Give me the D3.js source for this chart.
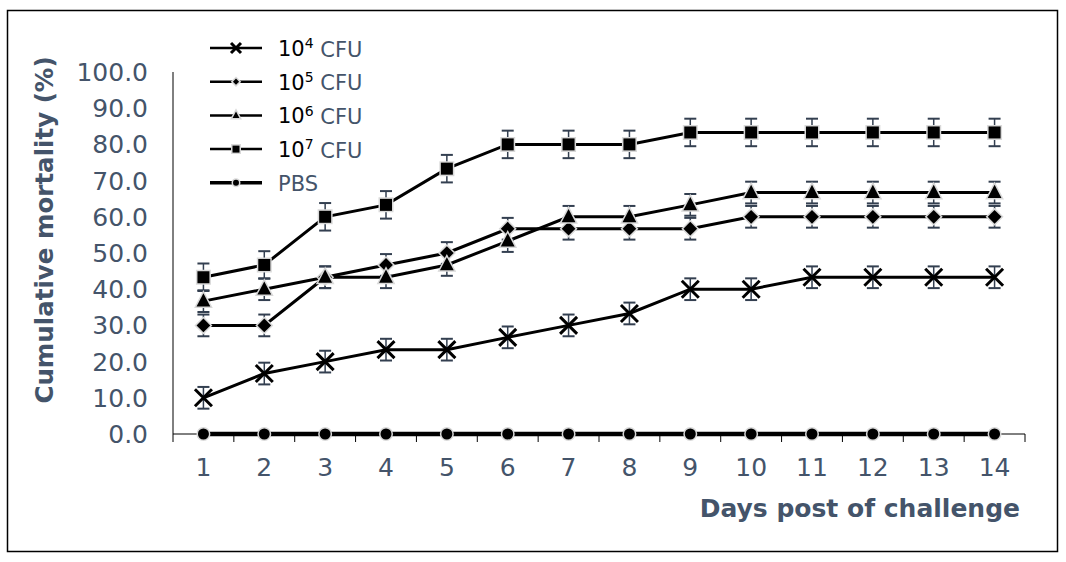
<!DOCTYPE html>
<html>
<head>
<meta charset="utf-8">
<script src="https://cdn.jsdelivr.net/npm/d3@7"></script>
<style>
  body { margin: 0; background: #fff; }
  svg text { font-family: "DejaVu Sans", Verdana, sans-serif; }
</style>
</head>
<body>
<div id="chart"></div>
<script>
// data
const days = [1, 2, 3, 4, 5, 6, 7, 8, 9, 10, 11, 12, 13, 14]
const yTicks = [0, 10, 20, 30, 40, 50, 60, 70, 80, 90, 100]

const cfu4 = [10, 16.7, 20, 23.3, 23.3, 26.7, 30, 33.3, 40, 40, 43.3, 43.3, 43.3, 43.3]
const cfu5 = [30, 30, 43.3, 46.7, 50, 56.7, 56.7, 56.7, 56.7, 60, 60, 60, 60, 60]
const cfu6 = [36.7, 40, 43.3, 43.3, 46.7, 53.3, 60, 60, 63.3, 66.7, 66.7, 66.7, 66.7, 66.7]
const cfu7 = [43.3, 46.7, 60, 63.3, 73.3, 80, 80, 80, 83.3, 83.3, 83.3, 83.3, 83.3, 83.3]
const pbs = [0, 0, 0, 0, 0, 0, 0, 0, 0, 0, 0, 0, 0, 0]

const err4 = [3, 3, 3, 3, 3, 3, 3, 3, 3, 3, 3, 3, 3, 3]
const err5 = [3, 3, 3, 3, 3, 3, 3, 3, 3, 3, 3, 3, 3, 3]
const err6 = [3, 3, 3, 3, 3, 3, 3, 3, 3, 3, 3, 3, 3, 3]
const err7 = [3.8, 3.8, 3.8, 3.8, 3.8, 3.8, 3.8, 3.8, 3.8, 3.8, 3.8, 3.8, 3.8, 3.8]
const errPbs = [0, 0, 0, 0, 0, 0, 0, 0, 0, 0, 0, 0, 0, 0]

const seriesNames = ['4', '5', '6', '7', 'PBS']

const textColor = '#44546a'
const errColor = '#333f50'
const haloColor = '#d9d9d9'

const series = [
  {name: seriesNames[0], values: cfu4, err: err4, marker: 'x', width: 3},
  {name: seriesNames[1], values: cfu5, err: err5, marker: 'diamond', width: 3},
  {name: seriesNames[2], values: cfu6, err: err6, marker: 'triangle', width: 3},
  {name: seriesNames[3], values: cfu7, err: err7, marker: 'square', width: 3},
  {name: seriesNames[4], values: pbs, err: errPbs, marker: 'circle', width: 4.5},
]

const canvasWidth = 1066
const canvasHeight = 562
const margins = {top: 72, right: 41, bottom: 128, left: 173}
const width = canvasWidth - margins.left - margins.right
const height = canvasHeight - margins.top - margins.bottom

const root = d3
  .select('#chart')
  .append('svg')
  .attr('width', canvasWidth)
  .attr('height', canvasHeight)

// outer frame
root
  .append('rect')
  .attr('x', 7.5)
  .attr('y', 10.5)
  .attr('width', 1050)
  .attr('height', 541)
  .attr('fill', 'none')
  .attr('stroke', '#000')
  .attr('stroke-width', 1.5)

const svg = root
  .append('g')
  .attr('transform', `translate(${margins.left}, ${margins.top})`)

const xScale = d3
  .scaleBand()
  .domain(days)
  .range([0, width])

const yScale = d3
  .scaleLinear()
  .domain([0, 100])
  .range([height, 0])

const xc = d => xScale(d) + xScale.bandwidth() / 2

// x axis: ticks on category boundaries
const xAxis = svg
  .append('g')
  .attr('transform', `translate(0, ${height})`)

xAxis
  .append('line')
  .attr('x1', 0)
  .attr('x2', width)
  .attr('stroke', '#000')
  .attr('stroke-width', 1)

xAxis
  .selectAll('line.tick')
  .data(days.concat([null]))
  .enter()
  .append('line')
  .attr('class', 'tick')
  .attr('x1', (d, i) => i * xScale.step())
  .attr('x2', (d, i) => i * xScale.step())
  .attr('y1', 0)
  .attr('y2', 8)
  .attr('stroke', '#000')

xAxis
  .selectAll('text')
  .data(days)
  .enter()
  .append('text')
  .attr('x', d => xc(d))
  .attr('y', 42)
  .attr('text-anchor', 'middle')
  .attr('font-size', 25)
  .attr('fill', textColor)
  .text(d => d)

// y axis
const yAxis = svg.append('g')

yAxis
  .append('line')
  .attr('y1', 0)
  .attr('y2', height)
  .attr('stroke', '#000')

yAxis
  .selectAll('text')
  .data(yTicks)
  .enter()
  .append('text')
  .attr('x', -25)
  .attr('y', d => yScale(d))
  .attr('dy', '0.36em')
  .attr('text-anchor', 'end')
  .attr('font-size', 25)
  .attr('fill', textColor)
  .text(d => d3.format('.1f')(d))

// axis titles
root
  .append('text')
  .attr('transform', 'translate(53, 230) rotate(-90)')
  .attr('text-anchor', 'middle')
  .attr('font-size', 24.5)
  .attr('font-weight', 'bold')
  .attr('fill', textColor)
  .text('Cumulative mortality (%)')

root
  .append('text')
  .attr('x', 1020)
  .attr('y', 517)
  .attr('text-anchor', 'end')
  .attr('font-size', 25)
  .attr('font-weight', 'bold')
  .attr('fill', textColor)
  .text('Days post of challenge')

const drawMarker = (g, type, s) => {
  if (type === 'x') {
    g.append('path')
      .attr('d', `M${-s},${-s}L${s},${s}M${-s},${s}L${s},${-s}`)
      .attr('stroke', '#000')
      .attr('stroke-width', 3)
      .attr('fill', 'none')
    return
  }
  let d
  if (type === 'square') d = d3.symbol(d3.symbolSquare, s * s * 4)()
  if (type === 'diamond') d = `M0,${-s * 1.25}L${s * 1.25},0L0,${s * 1.25}L${-s * 1.25},0Z`
  if (type === 'triangle') d = `M0,${-s * 1.3}L${s * 1.15},${s * 0.9}L${-s * 1.15},${s * 0.9}Z`
  if (type === 'circle') d = d3.symbol(d3.symbolCircle, Math.PI * s * s)()
  g.append('path')
    .attr('d', d)
    .attr('fill', '#000')
    .attr('stroke', haloColor)
    .attr('stroke-width', 3)
    .attr('paint-order', 'stroke')
}

const markerSize = {x: 8.5, square: 6, diamond: 5.5, triangle: 6, circle: 5.5}

const line = d3
  .line()
  .x((v, i) => xc(days[i]))
  .y(v => yScale(v))

series.forEach(s => {
  svg
    .append('path')
    .datum(s.values)
    .attr('d', line)
    .attr('fill', 'none')
    .attr('stroke', '#000')
    .attr('stroke-width', s.width)
})

// error bars
series.forEach(s => {
  const g = svg.append('g')
  s.values.forEach((v, i) => {
    const e = s.err[i]
    if (!e) return
    const x = xc(days[i])
    const y1 = yScale(v + e)
    const y2 = yScale(v - e)
    g.append('line')
      .attr('x1', x).attr('x2', x)
      .attr('y1', y1).attr('y2', y2)
      .attr('stroke', errColor).attr('stroke-width', 1.5)
    ;[y1, y2].forEach(y => {
      g.append('line')
        .attr('x1', x - 6).attr('x2', x + 6)
        .attr('y1', y).attr('y2', y)
        .attr('stroke', errColor).attr('stroke-width', 2)
    })
  })
})

// markers
series.forEach(s => {
  svg
    .selectAll(null)
    .data(s.values)
    .enter()
    .append('g')
    .attr('transform', (v, i) => `translate(${xc(days[i])}, ${yScale(v)})`)
    .each(function () {
      drawMarker(d3.select(this), s.marker, markerSize[s.marker])
    })
})

// legend
const legend = root.append('g').attr('transform', 'translate(210, 48)')
const legendRow = 33.7

series.forEach((s, i) => {
  const g = legend.append('g').attr('transform', `translate(0, ${i * legendRow})`)
  g.append('line')
    .attr('x1', 0).attr('x2', 52)
    .attr('stroke', '#000')
    .attr('stroke-width', s.marker === 'circle' ? 3.5 : 2.5)
  const m = g.append('g').attr('transform', 'translate(26, 0)')
  const small = {x: 5, square: 3.5, diamond: 2.5, triangle: 3, circle: 3}
  drawMarker(m, s.marker, small[s.marker])

  const t = g.append('text')
    .attr('x', 68)
    .attr('y', 0)
    .attr('dy', '0.38em')
    .attr('font-size', 21)
  if (s.name === 'PBS') {
    t.append('tspan').attr('fill', textColor).text('PBS')
  } else {
    t.append('tspan').attr('fill', '#000').text('10')
    t.append('tspan').attr('fill', '#000').attr('font-size', 14).attr('dy', '-0.55em').text(s.name)
    t.append('tspan').attr('fill', textColor).attr('dy', '0.4em').text(' CFU')
  }
})
</script>
</body>
</html>
